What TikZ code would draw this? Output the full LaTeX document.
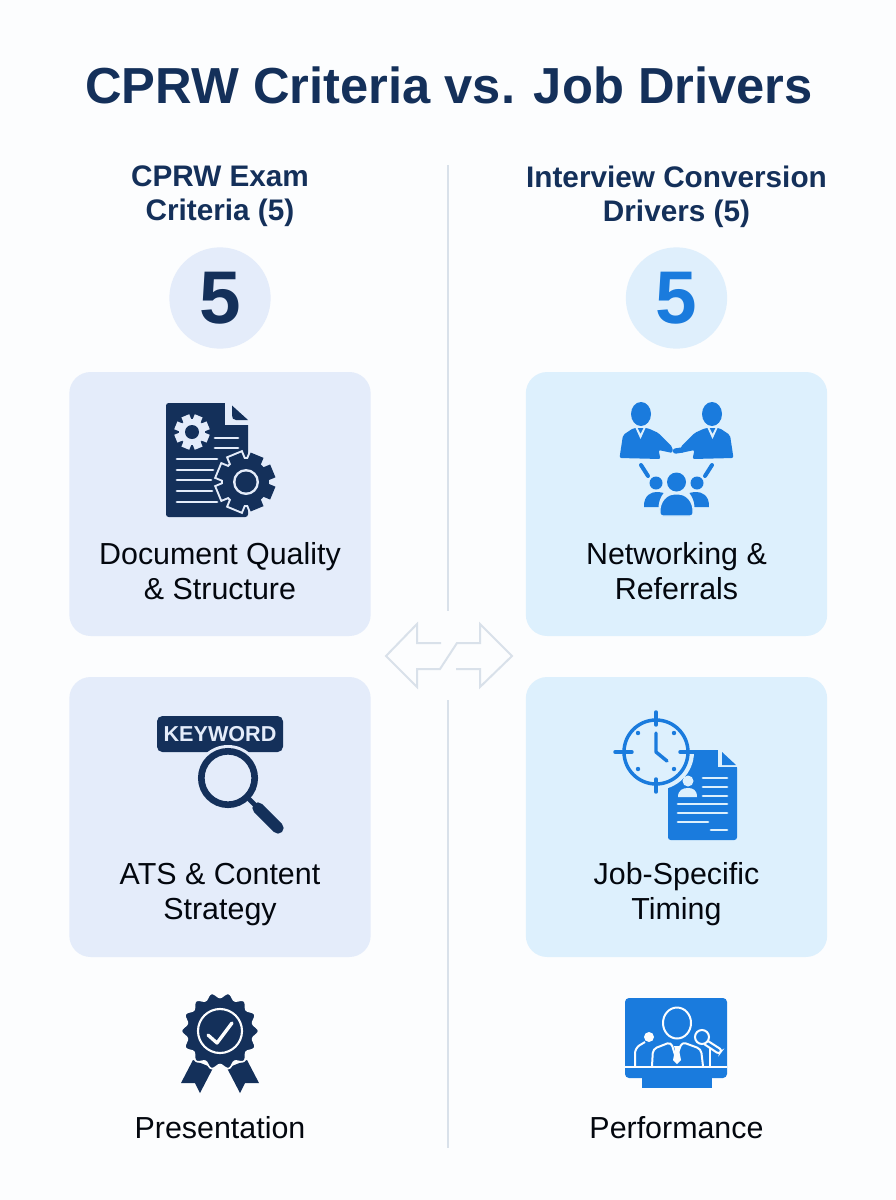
\documentclass[tikz,border=0pt]{standalone}
\usepackage{fontspec}
\setmainfont{Liberation Sans}
\usetikzlibrary{positioning}
\definecolor{navyc}{HTML}{14305A}
\definecolor{bluec}{HTML}{1A7BDD}
\definecolor{cardl}{HTML}{E4ECFA}
\definecolor{cardr}{HTML}{DDF0FD}
\definecolor{rulec}{HTML}{D9E1EA}
\definecolor{pagec}{HTML}{FCFDFE}
\tikzset{
  titlebox/.style={text=navyc,font=\fontsize{38}{42}\selectfont\bfseries},
  headbox/.style={text=navyc,font=\fontsize{22.3}{25.5}\selectfont\bfseries,align=center},
  labelbox/.style={text=black!85!navyc,font=\fontsize{22.8}{26.2}\selectfont,align=center},
  cardbox/.style={rounded corners=16pt,minimum width=226pt,inner sep=0pt},
  numbox/.style={circle,minimum size=76pt,inner sep=0pt,font=\fontsize{56}{56}\selectfont\bfseries},
  divline/.style={rulec,line width=1.6pt},
  swapline/.style={rulec,line width=1.5pt},
  inkline/.style={line width=2.2pt,line cap=round},
  halopath/.style={every path/.append style={draw=#1,line width=3pt}}
}
\newcommand{\gearicon}[7]{% x, y, body radius, tooth radius, hole radius, gear colour, hole colour
  \begin{scope}[shift={(#1,#2)}]
    \foreach \a in {22.5,67.5,...,337.5}
      \fill[#6,rotate=\a] (-0.24*#4,0) rectangle (0.24*#4,#4);
    \fill[#6] (0,0) circle (#3);
    \fill[#7] (0,0) circle (#5);
  \end{scope}}
\begin{document}
\begin{tikzpicture}[x=0.75pt,y=-0.75pt]
  \useasboundingbox (0,0) rectangle (896,1200);
  \fill[pagec] (0,0) rectangle (896,1200);
  \draw
    (449,85) node[titlebox] (title){CPRW Criteria vs. Job Drivers}
    (220,196.5) node[headbox] (headl){CPRW Exam\\Criteria (5)}
    (676.5,196.5) node[headbox] (headr){Interview Conversion\\Drivers (5)}
    (220,298) node[numbox,fill=cardl,text=navyc] (numl){5}
    (676.5,298) node[numbox,fill=cardr!70!cardl,text=bluec] (numr){5}
    (220,504) node[cardbox,fill=cardl,minimum height=198pt] (cardla){}
    (676.5,504) node[cardbox,fill=cardr,minimum height=198pt] (cardra){}
    (220,817) node[cardbox,fill=cardl,minimum height=210pt] (cardlb){}
    (676.5,817) node[cardbox,fill=cardr,minimum height=210pt] (cardrb){}
    (220,571.5) node[labelbox] (labla){Document Quality\\\& Structure}
    (676.5,571.5) node[labelbox] (labra){Networking \&\\Referrals}
    (220,894.5) node[labelbox] (lablb){ATS \& Content\\Strategy}
    (676.5,894.5) node[labelbox] (labrb){Job-Specific\\Timing}
    (220,1128) node[labelbox] (lablc){Presentation}
    (676.5,1128) node[labelbox] (labrc){Performance};
  \coordinate (divtop) at (448,165);
  \coordinate (divup) at (448,611);
  \coordinate (divlow) at (448,700);
  \coordinate (divend) at (448,1148);
  \draw[divline] (divtop) -- (divup);
  \draw[divline] (divlow) -- (divend);
  \draw[swapline,line join=miter] (441,643) -- (417,643) -- (417,624) -- (386,656) -- (417,687)
    -- (417,669) -- (440,669) -- (457,643) -- (480,643) -- (480,624) -- (512,656)
    -- (480,687) -- (480,669) -- (456,669);
  % document with gears
  \fill[navyc,rounded corners=2pt] (166,403) -- (227,403) -- (248,422) -- (248,517) -- (166,517) -- cycle;
  \fill[cardl] (225,400) -- (250,400) -- (250,425) -- (225,425) -- cycle;
  \fill[navyc] (232,405.5) -- (248,420) -- (236,420) .. controls (233,420) and (232,418) .. (232,415) -- cycle;
  \gearicon{192}{432}{13}{17.5}{7}{cardl}{navyc}
  \foreach \ya/\xa in {438/238,448/238}
    \draw[cardl,inkline] (215,\ya) -- (\xa,\ya);
  \foreach \ya/\xa in {459/217,470/213,480/211,491/212,502/217}
    \draw[cardl,inkline] (177,\ya) -- (\xa,\ya);
  \begin{scope}[halopath=cardl]
    \gearicon{246}{482}{23}{29}{0}{cardl}{cardl}
  \end{scope}
  \gearicon{246}{482}{23}{29}{13}{navyc}{cardl}
  \fill[navyc] (246,482) circle (10.5);
  % keyword lens
  \fill[navyc,rounded corners=4pt] (157,716) rectangle (283,752);
  \node[text=cardl,font=\fontsize{16.2}{20}\selectfont\bfseries] (kword) at (220,734.5) {KEYWORD};
  \fill[cardl] (228,778) circle (33);
  \draw[navyc,line width=5pt] (228,778) circle (26.7);
  \draw[navyc,line width=3.5pt] (248,798) -- (258,808);
  \draw[navyc,line width=8.5pt,line cap=round] (258,808) -- (278,828);
  % badge
  \foreach \sgn in {1,-1} {
    \begin{scope}[shift={(220,0)},xscale=\sgn]
      \fill[navyc] (-27,1060) -- (-39,1083) -- (-25,1083) -- (-20,1093) -- (-7,1068) -- cycle;
    \end{scope}
  }
  \fill[navyc,draw=pagec,line width=1.2pt] plot[smooth,domain=0:360,samples=141] ({220+(36+2.5*cos(14*\x))*cos(\x)},{1031+(36+2.5*cos(14*\x))*sin(\x)}) -- cycle;
  \draw[pagec,line width=1.6pt] (220,1031) circle (22);
  \draw[pagec,line width=2.5pt,line cap=round,line join=round] (208,1035) -- (217,1043) -- (232,1023);
  % people
  \foreach \sgn in {1,-1} {
    \begin{scope}[shift={(676.5,0)},xscale=\sgn]
      \fill[bluec] (-35.5,414) ellipse (10 and 12);
      \fill[bluec,rounded corners=1.5pt] (-57,458) -- (-53.5,435) -- (-43,428) -- (-29,428) -- (-18,433)
        -- (-4,447) -- (-4,453) -- (-18,450) -- (-16,459) -- cycle;
      \fill[cardr] (-41,428) -- (-36,439) -- (-31,428) -- (-33,428) -- (-36,434) -- (-39,428) -- cycle;
      \draw[bluec,line width=3pt,line cap=round] (-35.5,465) -- (-28.5,476);
      \fill[bluec] (-20.5,483) circle (6.5);
      \fill[bluec] (-32.5,507) .. controls (-33,495) and (-25,492) .. (-20,492) .. controls (-16,492) and (-13,493) .. (-13,493)
        .. controls (-16,497) and (-18,502) .. (-18,507) -- cycle;
    \end{scope}
  }
  \draw[bluec,line width=4pt,line cap=round] (682,450) -- (675.5,451);
  \fill[bluec] (676.5,482) circle (9.5);
  \fill[bluec,draw=cardr,line width=1pt,rounded corners=2pt] (660,516) .. controls (659,500) and (668,494) .. (676.5,494) .. controls (685,494) and (694,500) .. (693,516) -- cycle;
  % clock and resume
  \fill[bluec,rounded corners=2pt] (668,750) -- (720,750) -- (737,765) -- (737,840) -- (668,840) -- cycle;
  \fill[cardr] (718,748) -- (740,748) -- (740,767) -- (718,767) -- cycle;
  \fill[bluec] (722,752) -- (736,765) -- (722,765) -- cycle;
  \fill[cardr] (656,752) circle (38);
  \draw[bluec,line width=2.6pt] (656,752) circle (32);
  \draw[bluec,inkline,line width=2.6pt] (656,712) -- (656,725) (656,779) -- (656,792) (615,752) -- (632,752) (680,752) -- (697,752);
  \foreach \dx/\dy in {638/733,674/733,638/769,674/769}
    \fill[bluec] (\dx,\dy) circle (2.2);
  \draw[bluec,line width=2.6pt,line cap=round,line join=round] (656,733) -- (656,752) -- (667,761);
  \fill[cardr] (688,781) circle (5.5);
  \fill[cardr] (678,797) .. controls (678,790) and (683,788) .. (688,788) .. controls (693,788) and (697,790) .. (697,797) -- cycle;
  \foreach \ya/\xa/\xb in {778/703/727,787/703/727,796/703/727,804/678/727,813/678/727,822/678/708,830/711/727}
    \draw[cardr,inkline] (\xa,\ya) -- (\xb,\ya);
  % podium
  \fill[bluec,rounded corners=3pt] (625,998) rectangle (727,1078);
  \fill[bluec] (642,1075) rectangle (712,1088);
  \draw[pagec,line width=1.5pt] (625,1067) -- (727,1067);
  \draw[pagec,line width=1.5pt] (677,1023) ellipse (14 and 15.5);
  \draw[pagec,line width=1.5pt,rounded corners=3pt] (652,1066) -- (653,1049) -- (671,1042) -- (676,1058) -- (682,1042) -- (701,1049) -- (703,1066);
  \fill[pagec] (674,1046) -- (680,1046) -- (679,1050) -- (681,1060) -- (677,1064) -- (673,1060) -- (675,1050) -- cycle;
  \fill[pagec] (649,1037) circle (5);
  \draw[pagec,line width=1.5pt,rounded corners=4pt] (645,1042) -- (635,1048) -- (635,1066);
  \draw[pagec,line width=1.5pt] (702,1037) circle (7);
  \draw[pagec,line width=1.5pt,rounded corners=2pt] (708,1041) -- (722,1050) -- (719,1054) -- (704,1044);
  \draw[pagec,line width=1.5pt] (710,1048) -- (710,1066);
\end{tikzpicture}
\end{document}
